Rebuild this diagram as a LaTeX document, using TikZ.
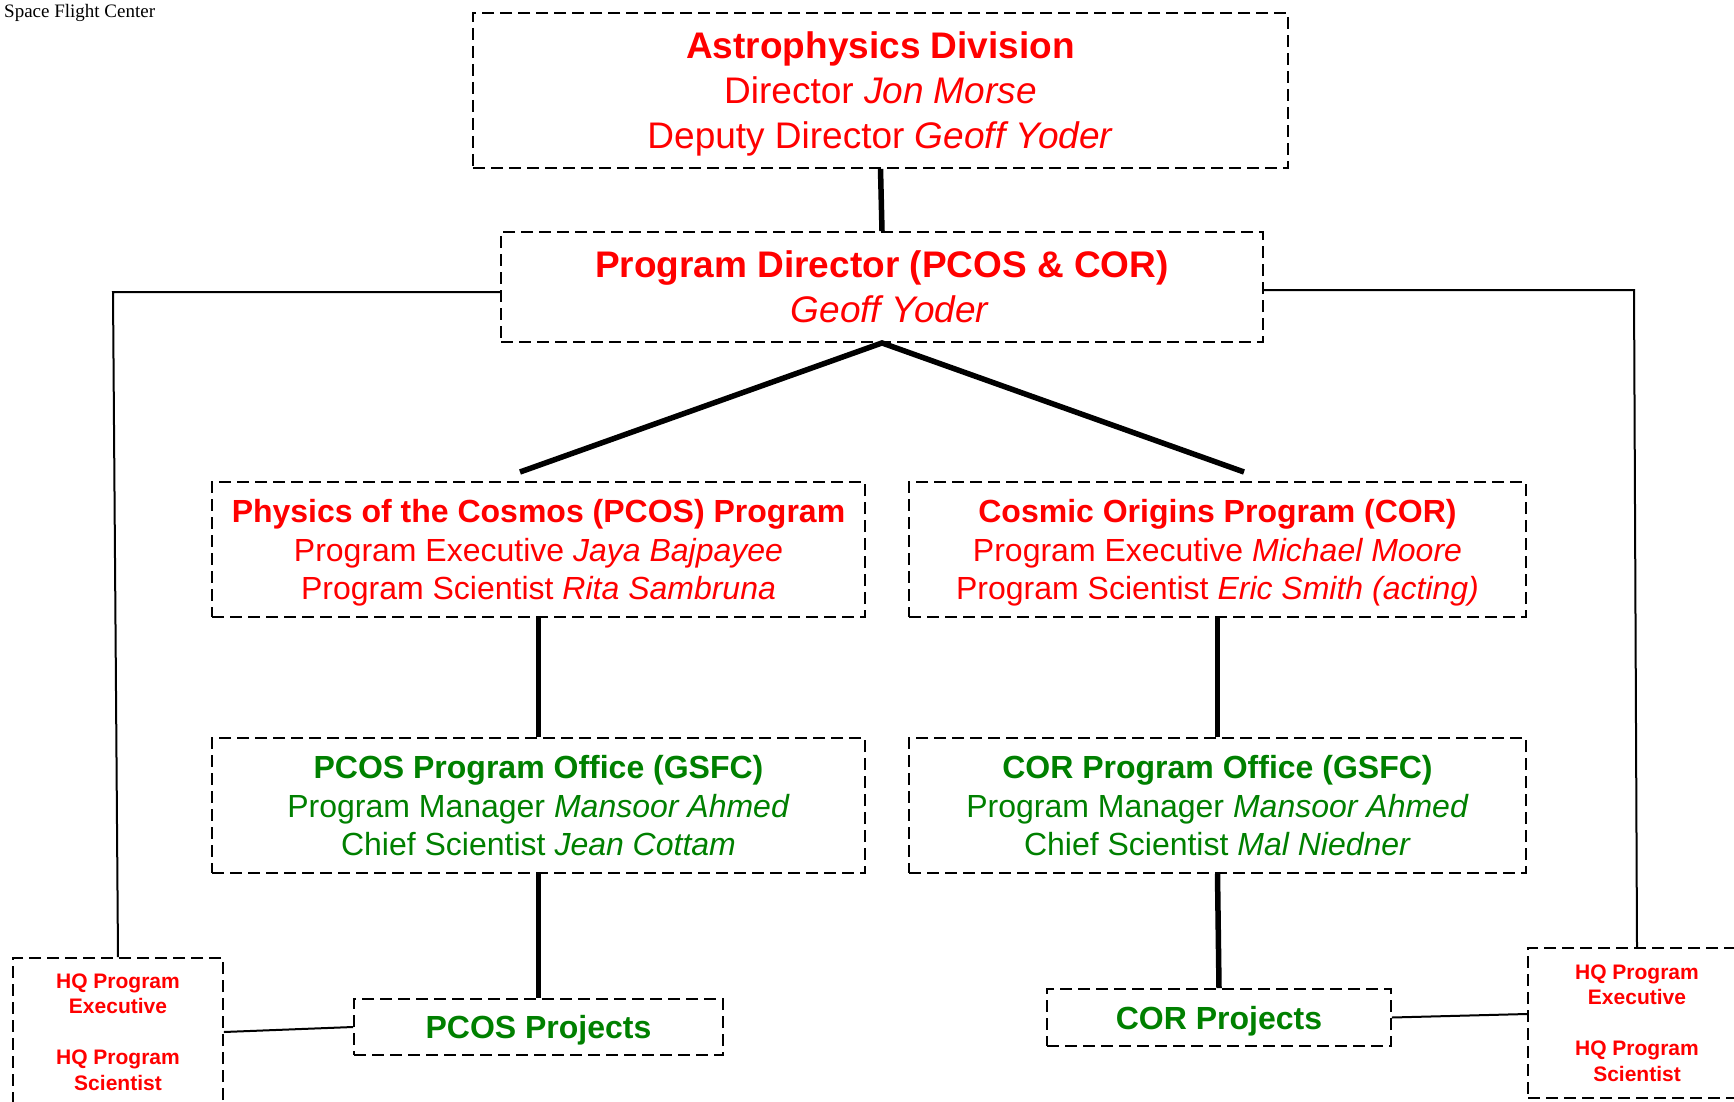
\documentclass[tikz,border=0pt]{standalone}
\usepackage{fontspec}
\setmainfont{Liberation Sans}
\newfontfamily\timesf{Liberation Serif}
\definecolor{nred}{RGB}{255,0,0}
\definecolor{ngreen}{RGB}{0,128,0}
\begin{document}
\begin{tikzpicture}[x=1pt,y=-1pt,
  box/.style={draw=black, line width=1.9pt, dash pattern=on 12pt off 6pt, inner sep=0pt, align=center, text depth=0pt},
  bigtext/.style={font=\fontsize{37}{45}\selectfont, text=nred},
  midred/.style={font=\fontsize{32}{38.7}\selectfont, text=nred},
  midgreen/.style={font=\fontsize{32}{38.7}\selectfont, text=ngreen},
  hqtext/.style={font=\fontsize{21}{25.5}\selectfont\bfseries, text=nred},
  thickline/.style={line width=5.5pt},
  thinline/.style={line width=2pt}]
\clip (0,0) rectangle (1734,1102);
\node[anchor=base west, font=\timesf\fontsize{19}{22}\selectfont, inner sep=0pt] (sfc) at (4,18) {Space Flight Center};

\node[box, bigtext, minimum width=815pt, minimum height=155pt] (astro) at (880.5,90.5)
  {{\bfseries Astrophysics Division}\\Director \textit{Jon Morse}\\Deputy Director \textit{Geoff Yoder}};
\node[box, bigtext, minimum width=762pt, minimum height=110pt] (pd) at (882,287)
  {{\bfseries Program Director (PCOS \& COR)}\\\hspace*{16pt}\textit{Geoff Yoder}};

\node[box, midred, minimum width=653pt, minimum height=135pt] (pcos) at (538.5,549.5)
  {{\bfseries Physics of the Cosmos (PCOS) Program}\\Program Executive \textit{Jaya Bajpayee}\\Program Scientist \textit{Rita Sambruna}};
\node[box, midred, minimum width=617pt, minimum height=135pt] (cor) at (1217.5,549.5)
  {{\bfseries Cosmic Origins Program (COR)}\\Program Executive \textit{Michael Moore}\\Program Scientist \textit{Eric Smith (acting)}};

\node[box, midgreen, minimum width=653pt, minimum height=135pt] (pcosoff) at (538.5,805.5)
  {{\bfseries PCOS Program Office (GSFC)}\\Program Manager \textit{Mansoor Ahmed}\\Chief Scientist \textit{Jean Cottam}};
\node[box, midgreen, minimum width=617pt, minimum height=135pt] (coroff) at (1217.5,805.5)
  {{\bfseries COR Program Office (GSFC)}\\Program Manager \textit{Mansoor Ahmed}\\Chief Scientist \textit{Mal Niedner}};

\node[box, midgreen, font=\fontsize{32}{38.7}\selectfont\bfseries, minimum width=369pt, minimum height=56pt] (pcosproj) at (538.5,1027) {PCOS Projects};
\node[box, midgreen, font=\fontsize{32}{38.7}\selectfont\bfseries, minimum width=344pt, minimum height=57pt] (corproj) at (1219,1017.5) {COR Projects};

\node[box, hqtext, minimum width=210pt, minimum height=148pt] (hqL) at (118,1032)
  {HQ Program\\Executive\\[25.5pt]HQ Program\\Scientist};
\node[box, hqtext, minimum width=218pt, minimum height=150pt] (hqR) at (1637,1023)
  {HQ Program\\Executive\\[25.5pt]HQ Program\\Scientist};

\coordinate (pl) at (520,472);
\coordinate (pr) at (1244,472);
\coordinate (lc) at (113,292);
\coordinate (rc) at (1634,290);

\draw[thickline] (astro.south) -- (pd.north);
\draw[thickline] (pl) -- (pd.south) -- (pr);
\draw[thickline] (pcos.south) -- (pcosoff.north);
\draw[thickline] (cor.south) -- (coroff.north);
\draw[thickline] (pcosoff.south) -- (pcosproj.north);
\draw[thickline] (coroff.south) -- (corproj.north);

\draw[thinline] (pd.west |- lc) -- (lc) -- (hqL.north);
\draw[thinline] (pd.east |- rc) -- (rc) -- (hqR.north);
\draw[thinline] (hqL.east) -- (pcosproj.west);
\draw[thinline] (corproj.east) -- ([yshift=9pt]hqR.west);
\end{tikzpicture}
\end{document}
